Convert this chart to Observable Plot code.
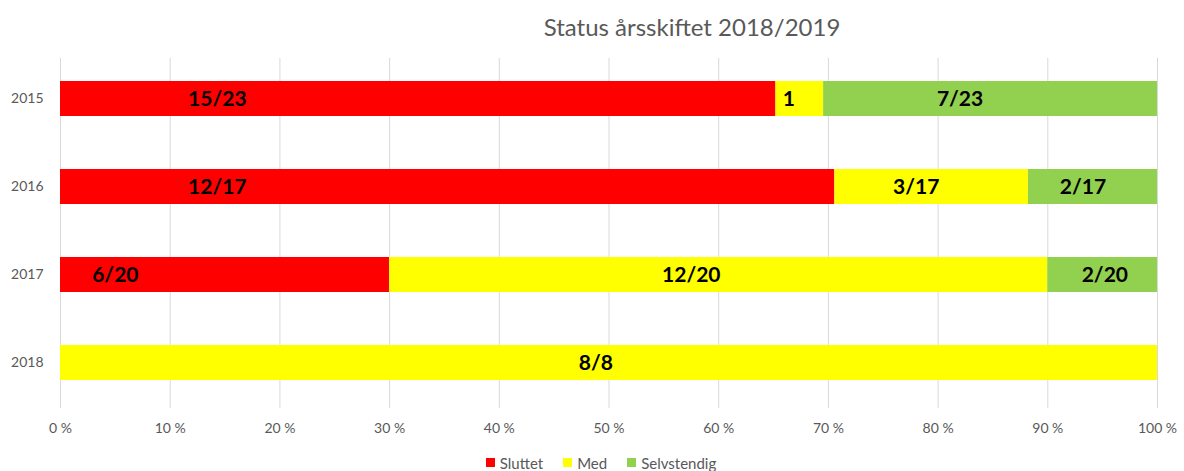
<!DOCTYPE html>
<html>
<head>
<meta charset="utf-8">
<script src="https://cdn.jsdelivr.net/npm/d3@7"></script>
<script src="https://cdn.jsdelivr.net/npm/@observablehq/plot@0.6"></script>
<style>
  body { margin: 0; background: #fff; font-family: Lato, "Open Sans", sans-serif; }
  #wrap { width: 1184px; height: 471px; overflow: hidden; }
  #title { height: 48px; box-sizing: border-box; padding-top: 13px; padding-left: 200px; text-align: center;
           font-size: 24px; line-height: 28px; color: #595959; font-family: Lato, sans-serif; }
  #legend { height: 23px; margin-top: 3px; display: flex; justify-content: center; align-items: center; gap: 20px;
            font-size: 15px; color: #595959; padding-left: 18px; }
  #legend span.sw { display: inline-block; width: 9px; height: 9px; margin-right: 5px; }
  #legend div { display: flex; align-items: center; }
</style>
</head>
<body>
<div id="wrap">
  <div id="title">Status årsskiftet 2018/2019</div>
  <div id="chart"></div>
  <div id="legend"></div>
</div>
<script>
const years = ["2015", "2016", "2017", "2018"];
const seriesNames = ["Sluttet", "Med", "Selvstendig"];
const seriesColors = ["#FF0000", "#FFFF00", "#92D050"];
const sluttet = [15, 12, 6, 0];
const med = [1, 3, 12, 8];
const selvstendig = [7, 2, 2, 0];
const sluttetLabels = ["15/23", "12/17", "6/20", ""];
const medLabels = ["1", "3/17", "12/20", "8/8"];
const selvstendigLabels = ["7/23", "2/17", "2/20", ""];
// label anchor positions (share of bar)
const sluttetLabelPos = [0.143, 0.143, 0.05, 0];
const medLabelPos = [0.664, 0.78, 0.575, 0.488];
const selvstendigLabelPos = [0.82, 0.932, 0.952, 0];
const xTicks = [0, 0.1, 0.2, 0.3, 0.4, 0.5, 0.6, 0.7, 0.8, 0.9, 1];

const seriesValues = [sluttet, med, selvstendig];
const seriesLabels = [sluttetLabels, medLabels, selvstendigLabels];
const seriesLabelPos = [sluttetLabelPos, medLabelPos, selvstendigLabelPos];

const rows = [];
const labels = [];
seriesNames.forEach((s, si) => {
  years.forEach((y, yi) => {
    rows.push({year: y, series: s, value: seriesValues[si][yi]});
    if (seriesLabels[si][yi]) labels.push({year: y, text: seriesLabels[si][yi], pos: seriesLabelPos[si][yi]});
  });
});

const chart = Plot.plot({
  width: 1184,
  height: 400,
  marginLeft: 60,
  marginRight: 27,
  marginTop: 10,
  marginBottom: 45,
  style: {fontFamily: "Lato, sans-serif", fontSize: "14px", color: "#595959", background: "#fff"},
  x: {domain: [0, 1], ticks: xTicks, tickFormat: d => Math.round(d * 100) + " %", tickSize: 0, tickPadding: 20, label: null, grid: false},
  y: {domain: years, padding: 0.6, paddingOuter: 0.26, tickSize: 0, tickPadding: 17, label: null},
  color: {domain: seriesNames, range: seriesColors},
  marks: [
    Plot.ruleX(xTicks, {stroke: "#d9d9d9", strokeWidth: 1, insetBottom: -5}),
    Plot.barX(rows, Plot.stackX({x: "value", y: "year", fill: "series", order: seriesNames, offset: "normalize", inset: 0})),
    Plot.text(labels, {x: "pos", y: "year", text: "text", fontSize: 21, fontWeight: "bold", fill: "#000", fontFamily: "Lato, sans-serif"})
  ]
});
document.getElementById("chart").appendChild(chart);

const legend = document.getElementById("legend");
seriesNames.forEach((s, i) => {
  const d = document.createElement("div");
  d.innerHTML = `<span class="sw" style="background:${seriesColors[i]}"></span>${s}`;
  legend.appendChild(d);
});
</script>
</body>
</html>
